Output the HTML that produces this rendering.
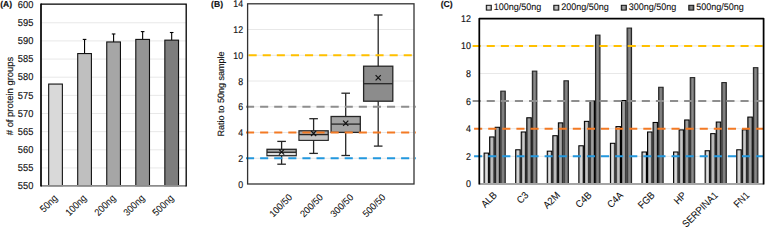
<!DOCTYPE html>
<html><head><meta charset="utf-8"><style>
html,body{margin:0;padding:0;background:#fff;width:765px;height:227px;overflow:hidden}
svg{display:block;font-family:"Liberation Sans", sans-serif;text-rendering:geometricPrecision}
</style></head><body>
<svg width="765" height="227" viewBox="0 0 765 227">
<rect width="765" height="227" fill="#fff"/>
<text transform="translate(0.20,7.40) scale(1.0,1)" font-size="8.6" text-anchor="start" font-weight="bold" fill="#111" stroke="#111" stroke-width="0.15" stroke-linejoin="round">(A)</text>
<line x1="41.0" x2="186.2" y1="167.95" y2="167.95" stroke="#e8e8e8" stroke-width="1"/>
<line x1="41.0" x2="186.2" y1="149.80" y2="149.80" stroke="#e8e8e8" stroke-width="1"/>
<line x1="41.0" x2="186.2" y1="131.65" y2="131.65" stroke="#e8e8e8" stroke-width="1"/>
<line x1="41.0" x2="186.2" y1="113.50" y2="113.50" stroke="#e8e8e8" stroke-width="1"/>
<line x1="41.0" x2="186.2" y1="95.35" y2="95.35" stroke="#e8e8e8" stroke-width="1"/>
<line x1="41.0" x2="186.2" y1="77.20" y2="77.20" stroke="#e8e8e8" stroke-width="1"/>
<line x1="41.0" x2="186.2" y1="59.05" y2="59.05" stroke="#e8e8e8" stroke-width="1"/>
<line x1="41.0" x2="186.2" y1="40.90" y2="40.90" stroke="#e8e8e8" stroke-width="1"/>
<line x1="41.0" x2="186.2" y1="22.75" y2="22.75" stroke="#e8e8e8" stroke-width="1"/>
<rect x="48.67" y="84.06" width="13.7" height="101.64" fill="#d9d9d9" stroke="#111" stroke-width="1.1"/>
<line x1="84.56" x2="84.56" y1="39.41" y2="53.57" stroke="#000" stroke-width="1.1"/>
<line x1="82.76" x2="86.36" y1="39.41" y2="39.41" stroke="#000" stroke-width="1.1"/>
<rect x="77.71" y="53.57" width="13.7" height="132.13" fill="#bfbfbf" stroke="#111" stroke-width="1.1"/>
<line x1="113.60" x2="113.60" y1="33.97" y2="41.95" stroke="#000" stroke-width="1.1"/>
<line x1="111.80" x2="115.40" y1="33.97" y2="33.97" stroke="#000" stroke-width="1.1"/>
<rect x="106.75" y="41.95" width="13.7" height="143.75" fill="#a6a6a6" stroke="#111" stroke-width="1.1"/>
<line x1="142.64" x2="142.64" y1="31.61" y2="39.41" stroke="#000" stroke-width="1.1"/>
<line x1="140.84" x2="144.44" y1="31.61" y2="31.61" stroke="#000" stroke-width="1.1"/>
<rect x="135.79" y="39.41" width="13.7" height="146.29" fill="#959595" stroke="#111" stroke-width="1.1"/>
<line x1="171.68" x2="171.68" y1="32.51" y2="40.14" stroke="#000" stroke-width="1.1"/>
<line x1="169.88" x2="173.48" y1="32.51" y2="32.51" stroke="#000" stroke-width="1.1"/>
<rect x="164.83" y="40.14" width="13.7" height="145.56" fill="#7d7d7d" stroke="#111" stroke-width="1.1"/>
<line x1="41.0" x2="186.2" y1="185.79999999999998" y2="185.79999999999998" stroke="#8c8c8c" stroke-width="1.8"/>
<path d="M186.2 186.6V4.2H41.0" fill="none" stroke="#000" stroke-width="1.3"/>
<line x1="41.0" x2="41.0" y1="3.6" y2="186.6" stroke="#000" stroke-width="1.7"/>
<text transform="translate(33.30,189.30) scale(0.93,1)" font-size="10" text-anchor="end" fill="#111" stroke="#111" stroke-width="0.15" stroke-linejoin="round">550</text>
<text transform="translate(33.30,171.15) scale(0.93,1)" font-size="10" text-anchor="end" fill="#111" stroke="#111" stroke-width="0.15" stroke-linejoin="round">555</text>
<text transform="translate(33.30,153.00) scale(0.93,1)" font-size="10" text-anchor="end" fill="#111" stroke="#111" stroke-width="0.15" stroke-linejoin="round">560</text>
<text transform="translate(33.30,134.85) scale(0.93,1)" font-size="10" text-anchor="end" fill="#111" stroke="#111" stroke-width="0.15" stroke-linejoin="round">565</text>
<text transform="translate(33.30,116.70) scale(0.93,1)" font-size="10" text-anchor="end" fill="#111" stroke="#111" stroke-width="0.15" stroke-linejoin="round">570</text>
<text transform="translate(33.30,98.55) scale(0.93,1)" font-size="10" text-anchor="end" fill="#111" stroke="#111" stroke-width="0.15" stroke-linejoin="round">575</text>
<text transform="translate(33.30,80.40) scale(0.93,1)" font-size="10" text-anchor="end" fill="#111" stroke="#111" stroke-width="0.15" stroke-linejoin="round">580</text>
<text transform="translate(33.30,62.25) scale(0.93,1)" font-size="10" text-anchor="end" fill="#111" stroke="#111" stroke-width="0.15" stroke-linejoin="round">585</text>
<text transform="translate(33.30,44.10) scale(0.93,1)" font-size="10" text-anchor="end" fill="#111" stroke="#111" stroke-width="0.15" stroke-linejoin="round">590</text>
<text transform="translate(33.30,25.95) scale(0.93,1)" font-size="10" text-anchor="end" fill="#111" stroke="#111" stroke-width="0.15" stroke-linejoin="round">595</text>
<text transform="translate(33.30,7.80) scale(0.93,1)" font-size="10" text-anchor="end" fill="#111" stroke="#111" stroke-width="0.15" stroke-linejoin="round">600</text>
<text transform="translate(13.10,96.00) rotate(-90) scale(0.99,1)" font-size="9.5" text-anchor="middle" fill="#111" stroke="#111" stroke-width="0.15" stroke-linejoin="round"># of protein groups</text>
<text transform="translate(58.12,198.80) rotate(-45) scale(0.9,1)" font-size="10" text-anchor="end" fill="#111" stroke="#111" stroke-width="0.06" stroke-linejoin="round">50ng</text>
<text transform="translate(87.16,198.80) rotate(-45) scale(0.9,1)" font-size="10" text-anchor="end" fill="#111" stroke="#111" stroke-width="0.06" stroke-linejoin="round">100ng</text>
<text transform="translate(116.20,198.80) rotate(-45) scale(0.9,1)" font-size="10" text-anchor="end" fill="#111" stroke="#111" stroke-width="0.06" stroke-linejoin="round">200ng</text>
<text transform="translate(145.24,198.80) rotate(-45) scale(0.9,1)" font-size="10" text-anchor="end" fill="#111" stroke="#111" stroke-width="0.06" stroke-linejoin="round">300ng</text>
<text transform="translate(174.28,198.80) rotate(-45) scale(0.9,1)" font-size="10" text-anchor="end" fill="#111" stroke="#111" stroke-width="0.06" stroke-linejoin="round">500ng</text>
<text transform="translate(211.10,7.40) scale(1.0,1)" font-size="8.6" text-anchor="start" font-weight="bold" fill="#111" stroke="#111" stroke-width="0.15" stroke-linejoin="round">(B)</text>
<line x1="247.6" x2="414.0" y1="158.26" y2="158.26" stroke="#e8e8e8" stroke-width="1"/>
<line x1="247.6" x2="414.0" y1="132.51" y2="132.51" stroke="#e8e8e8" stroke-width="1"/>
<line x1="247.6" x2="414.0" y1="106.77" y2="106.77" stroke="#e8e8e8" stroke-width="1"/>
<line x1="247.6" x2="414.0" y1="81.03" y2="81.03" stroke="#e8e8e8" stroke-width="1"/>
<line x1="247.6" x2="414.0" y1="55.29" y2="55.29" stroke="#e8e8e8" stroke-width="1"/>
<line x1="247.6" x2="414.0" y1="29.54" y2="29.54" stroke="#e8e8e8" stroke-width="1"/>
<line x1="281.6" x2="281.6" y1="141.4" y2="164.2" stroke="#262626" stroke-width="1.3"/>
<line x1="277.30" x2="285.90" y1="141.4" y2="141.4" stroke="#262626" stroke-width="1.3"/>
<line x1="277.30" x2="285.90" y1="164.2" y2="164.2" stroke="#262626" stroke-width="1.3"/>
<rect x="267.00" y="149.3" width="29.2" height="6.40" fill="#a8a8a8" stroke="#262626" stroke-width="1.3"/>
<rect x="267.65" y="152.3" width="27.90" height="2.75" fill="#dedede"/>
<line x1="267.00" x2="296.20" y1="152.3" y2="152.3" stroke="#262626" stroke-width="1.3"/>
<path d="M279.00 149.40L284.20 154.60M284.20 149.40L279.00 154.60" stroke="#111" stroke-width="1.2"/>
<line x1="313.6" x2="313.6" y1="118.7" y2="153.4" stroke="#262626" stroke-width="1.3"/>
<line x1="309.30" x2="317.90" y1="118.7" y2="118.7" stroke="#262626" stroke-width="1.3"/>
<line x1="309.30" x2="317.90" y1="153.4" y2="153.4" stroke="#262626" stroke-width="1.3"/>
<rect x="299.00" y="130.8" width="29.2" height="9.50" fill="#a8a8a8" stroke="#262626" stroke-width="1.3"/>
<rect x="299.65" y="134.6" width="27.90" height="5.05" fill="#c4c4c4"/>
<line x1="299.00" x2="328.20" y1="134.6" y2="134.6" stroke="#262626" stroke-width="1.3"/>
<path d="M311.00 130.80L316.20 136.00M316.20 130.80L311.00 136.00" stroke="#111" stroke-width="1.2"/>
<line x1="345.7" x2="345.7" y1="93.2" y2="155.5" stroke="#262626" stroke-width="1.3"/>
<line x1="341.40" x2="350.00" y1="93.2" y2="93.2" stroke="#262626" stroke-width="1.3"/>
<line x1="341.40" x2="350.00" y1="155.5" y2="155.5" stroke="#262626" stroke-width="1.3"/>
<rect x="331.10" y="116.5" width="29.2" height="15.90" fill="#a3a3a3" stroke="#262626" stroke-width="1.3"/>
<line x1="331.10" x2="360.30" y1="124.1" y2="124.1" stroke="#262626" stroke-width="1.3"/>
<path d="M343.10 120.70L348.30 125.90M348.30 120.70L343.10 125.90" stroke="#111" stroke-width="1.2"/>
<line x1="378.2" x2="378.2" y1="15.0" y2="146.1" stroke="#262626" stroke-width="1.3"/>
<line x1="373.90" x2="382.50" y1="15.0" y2="15.0" stroke="#262626" stroke-width="1.3"/>
<line x1="373.90" x2="382.50" y1="146.1" y2="146.1" stroke="#262626" stroke-width="1.3"/>
<rect x="363.60" y="66.2" width="29.2" height="35.00" fill="#8c8c8c" stroke="#262626" stroke-width="1.3"/>
<line x1="363.60" x2="392.80" y1="83.7" y2="83.7" stroke="#262626" stroke-width="1.3"/>
<path d="M375.60 75.20L380.80 80.40M380.80 75.20L375.60 80.40" stroke="#111" stroke-width="1.2"/>
<line x1="248.6" x2="416.0" y1="55.29" y2="55.29" stroke="#ffc000" stroke-width="2" stroke-dasharray="8.1 6"/>
<line x1="246" x2="416.0" y1="106.77" y2="106.77" stroke="#8e8e8e" stroke-width="2" stroke-dasharray="8.1 6"/>
<line x1="246" x2="416.0" y1="132.51" y2="132.51" stroke="#f37a24" stroke-width="2" stroke-dasharray="8.1 6"/>
<line x1="246" x2="416.0" y1="158.26" y2="158.26" stroke="#2398de" stroke-width="2" stroke-dasharray="8.1 6"/>
<rect x="247.6" y="3.8" width="166.40" height="180.20" fill="none" stroke="#333" stroke-width="1.3"/>
<text transform="translate(243.10,187.50) scale(0.9,1)" font-size="9.8" text-anchor="end" fill="#111" stroke="#111" stroke-width="0.15" stroke-linejoin="round">0</text>
<text transform="translate(243.10,161.76) scale(0.9,1)" font-size="9.8" text-anchor="end" fill="#111" stroke="#111" stroke-width="0.15" stroke-linejoin="round">2</text>
<text transform="translate(243.10,136.01) scale(0.9,1)" font-size="9.8" text-anchor="end" fill="#111" stroke="#111" stroke-width="0.15" stroke-linejoin="round">4</text>
<text transform="translate(243.10,110.27) scale(0.9,1)" font-size="9.8" text-anchor="end" fill="#111" stroke="#111" stroke-width="0.15" stroke-linejoin="round">6</text>
<text transform="translate(243.10,84.53) scale(0.9,1)" font-size="9.8" text-anchor="end" fill="#111" stroke="#111" stroke-width="0.15" stroke-linejoin="round">8</text>
<text transform="translate(243.10,58.79) scale(0.9,1)" font-size="9.8" text-anchor="end" fill="#111" stroke="#111" stroke-width="0.15" stroke-linejoin="round">10</text>
<text transform="translate(243.10,33.04) scale(0.9,1)" font-size="9.8" text-anchor="end" fill="#111" stroke="#111" stroke-width="0.15" stroke-linejoin="round">12</text>
<text transform="translate(243.10,7.30) scale(0.9,1)" font-size="9.8" text-anchor="end" fill="#111" stroke="#111" stroke-width="0.15" stroke-linejoin="round">14</text>
<text transform="translate(224.10,94.00) rotate(-90) scale(0.99,1)" font-size="9.1" text-anchor="middle" fill="#111" stroke="#111" stroke-width="0.15" stroke-linejoin="round">Ratio to 50ng sample</text>
<text transform="translate(292.90,198.00) rotate(-45) scale(0.95,1)" font-size="9.6" text-anchor="end" fill="#111" stroke="#111" stroke-width="0.06" stroke-linejoin="round">100/50</text>
<text transform="translate(323.70,198.00) rotate(-45) scale(0.95,1)" font-size="9.6" text-anchor="end" fill="#111" stroke="#111" stroke-width="0.06" stroke-linejoin="round">200/50</text>
<text transform="translate(354.00,198.00) rotate(-45) scale(0.95,1)" font-size="9.6" text-anchor="end" fill="#111" stroke="#111" stroke-width="0.06" stroke-linejoin="round">300/50</text>
<text transform="translate(386.10,198.00) rotate(-45) scale(0.95,1)" font-size="9.6" text-anchor="end" fill="#111" stroke="#111" stroke-width="0.06" stroke-linejoin="round">500/50</text>
<text transform="translate(440.70,7.40) scale(1.0,1)" font-size="8.6" text-anchor="start" font-weight="bold" fill="#111" stroke="#111" stroke-width="0.15" stroke-linejoin="round">(C)</text>
<line x1="479.4" x2="763.6" y1="156.30" y2="156.30" stroke="#e8e8e8" stroke-width="1"/>
<line x1="479.4" x2="763.6" y1="128.70" y2="128.70" stroke="#e8e8e8" stroke-width="1"/>
<line x1="479.4" x2="763.6" y1="101.10" y2="101.10" stroke="#e8e8e8" stroke-width="1"/>
<line x1="479.4" x2="763.6" y1="73.50" y2="73.50" stroke="#e8e8e8" stroke-width="1"/>
<line x1="479.4" x2="763.6" y1="45.90" y2="45.90" stroke="#e8e8e8" stroke-width="1"/>
<defs><linearGradient id="g1" x1="0" x2="1" y1="0" y2="0"><stop offset="0" stop-color="#9a9a9a"/><stop offset="0.5" stop-color="#e4e4e4"/><stop offset="1" stop-color="#9a9a9a"/></linearGradient><linearGradient id="g2" x1="0" x2="1" y1="0" y2="0"><stop offset="0" stop-color="#858585"/><stop offset="0.5" stop-color="#cacaca"/><stop offset="1" stop-color="#858585"/></linearGradient><linearGradient id="g3" x1="0" x2="1" y1="0" y2="0"><stop offset="0" stop-color="#6e6e6e"/><stop offset="0.5" stop-color="#a8a8a8"/><stop offset="1" stop-color="#6e6e6e"/></linearGradient><linearGradient id="g4" x1="0" x2="1" y1="0" y2="0"><stop offset="0" stop-color="#555555"/><stop offset="0.5" stop-color="#8c8c8c"/><stop offset="1" stop-color="#555555"/></linearGradient></defs>
<rect x="484.11" y="153.10" width="4.50" height="31.33" fill="url(#g1)" stroke="#000" stroke-width="1.05"/>
<rect x="489.66" y="136.95" width="4.50" height="47.47" fill="url(#g2)" stroke="#000" stroke-width="1.05"/>
<rect x="495.21" y="127.29" width="4.50" height="57.13" fill="url(#g3)" stroke="#000" stroke-width="1.05"/>
<rect x="500.76" y="91.14" width="4.50" height="93.29" fill="url(#g4)" stroke="#222" stroke-width="1.05"/>
<rect x="515.69" y="149.79" width="4.50" height="34.64" fill="url(#g1)" stroke="#000" stroke-width="1.05"/>
<rect x="521.24" y="131.99" width="4.50" height="52.44" fill="url(#g2)" stroke="#000" stroke-width="1.05"/>
<rect x="526.79" y="117.77" width="4.50" height="66.65" fill="url(#g3)" stroke="#000" stroke-width="1.05"/>
<rect x="532.34" y="71.13" width="4.50" height="113.30" fill="url(#g4)" stroke="#222" stroke-width="1.05"/>
<rect x="547.27" y="151.17" width="4.50" height="33.26" fill="url(#g1)" stroke="#000" stroke-width="1.05"/>
<rect x="552.82" y="135.71" width="4.50" height="48.71" fill="url(#g2)" stroke="#000" stroke-width="1.05"/>
<rect x="558.37" y="122.88" width="4.50" height="61.55" fill="url(#g3)" stroke="#000" stroke-width="1.05"/>
<rect x="563.92" y="80.79" width="4.50" height="103.64" fill="url(#g4)" stroke="#222" stroke-width="1.05"/>
<rect x="578.85" y="145.78" width="4.50" height="38.64" fill="url(#g1)" stroke="#000" stroke-width="1.05"/>
<rect x="584.40" y="121.36" width="4.50" height="63.07" fill="url(#g2)" stroke="#000" stroke-width="1.05"/>
<rect x="589.95" y="100.94" width="4.50" height="83.49" fill="url(#g3)" stroke="#000" stroke-width="1.05"/>
<rect x="595.50" y="35.11" width="4.50" height="149.32" fill="url(#g4)" stroke="#222" stroke-width="1.05"/>
<rect x="610.42" y="143.30" width="4.50" height="41.12" fill="url(#g1)" stroke="#000" stroke-width="1.05"/>
<rect x="615.97" y="126.60" width="4.50" height="57.82" fill="url(#g2)" stroke="#000" stroke-width="1.05"/>
<rect x="621.52" y="100.52" width="4.50" height="83.90" fill="url(#g3)" stroke="#000" stroke-width="1.05"/>
<rect x="627.07" y="28.07" width="4.50" height="156.35" fill="url(#g4)" stroke="#222" stroke-width="1.05"/>
<rect x="642.00" y="152.00" width="4.50" height="32.43" fill="url(#g1)" stroke="#000" stroke-width="1.05"/>
<rect x="647.55" y="131.99" width="4.50" height="52.44" fill="url(#g2)" stroke="#000" stroke-width="1.05"/>
<rect x="653.10" y="122.46" width="4.50" height="61.96" fill="url(#g3)" stroke="#000" stroke-width="1.05"/>
<rect x="658.65" y="87.27" width="4.50" height="97.15" fill="url(#g4)" stroke="#222" stroke-width="1.05"/>
<rect x="673.58" y="152.00" width="4.50" height="32.43" fill="url(#g1)" stroke="#000" stroke-width="1.05"/>
<rect x="679.13" y="129.91" width="4.50" height="54.51" fill="url(#g2)" stroke="#000" stroke-width="1.05"/>
<rect x="684.68" y="119.98" width="4.50" height="64.45" fill="url(#g3)" stroke="#000" stroke-width="1.05"/>
<rect x="690.23" y="77.61" width="4.50" height="106.81" fill="url(#g4)" stroke="#222" stroke-width="1.05"/>
<rect x="705.16" y="150.75" width="4.50" height="33.67" fill="url(#g1)" stroke="#000" stroke-width="1.05"/>
<rect x="710.71" y="133.64" width="4.50" height="50.78" fill="url(#g2)" stroke="#000" stroke-width="1.05"/>
<rect x="716.26" y="122.05" width="4.50" height="62.38" fill="url(#g3)" stroke="#000" stroke-width="1.05"/>
<rect x="721.81" y="82.58" width="4.50" height="101.84" fill="url(#g4)" stroke="#222" stroke-width="1.05"/>
<rect x="736.74" y="149.79" width="4.50" height="34.64" fill="url(#g1)" stroke="#000" stroke-width="1.05"/>
<rect x="742.29" y="129.78" width="4.50" height="54.65" fill="url(#g2)" stroke="#000" stroke-width="1.05"/>
<rect x="747.84" y="117.08" width="4.50" height="67.34" fill="url(#g3)" stroke="#000" stroke-width="1.05"/>
<rect x="753.39" y="67.68" width="4.50" height="116.75" fill="url(#g4)" stroke="#222" stroke-width="1.05"/>
<line x1="472.6" x2="763.6" y1="45.90" y2="45.90" stroke="#ffc000" stroke-width="2" stroke-dasharray="8.1 6"/>
<line x1="472.6" x2="763.6" y1="101.10" y2="101.10" stroke="#8e8e8e" stroke-width="2" stroke-dasharray="8.1 6"/>
<line x1="474.1" x2="763.6" y1="128.70" y2="128.70" stroke="#f37a24" stroke-width="2" stroke-dasharray="8.1 6"/>
<line x1="474.1" x2="763.6" y1="156.30" y2="156.30" stroke="#2398de" stroke-width="2" stroke-dasharray="8.1 6"/>
<line x1="479.4" x2="763.6" y1="183.9" y2="183.9" stroke="#a6a6a6" stroke-width="2"/>
<path d="M479.29999999999995 184.4V18.599999999999998H763.6V184.4" fill="none" stroke="#000" stroke-width="1.75" stroke-linejoin="round"/>
<text transform="translate(471.00,187.40) scale(0.91,1)" font-size="9.8" text-anchor="end" fill="#111" stroke="#111" stroke-width="0.15" stroke-linejoin="round">0</text>
<text transform="translate(471.00,159.80) scale(0.91,1)" font-size="9.8" text-anchor="end" fill="#111" stroke="#111" stroke-width="0.15" stroke-linejoin="round">2</text>
<text transform="translate(471.00,132.20) scale(0.91,1)" font-size="9.8" text-anchor="end" fill="#111" stroke="#111" stroke-width="0.15" stroke-linejoin="round">4</text>
<text transform="translate(471.00,104.60) scale(0.91,1)" font-size="9.8" text-anchor="end" fill="#111" stroke="#111" stroke-width="0.15" stroke-linejoin="round">6</text>
<text transform="translate(471.00,77.00) scale(0.91,1)" font-size="9.8" text-anchor="end" fill="#111" stroke="#111" stroke-width="0.15" stroke-linejoin="round">8</text>
<text transform="translate(471.00,49.40) scale(0.91,1)" font-size="9.8" text-anchor="end" fill="#111" stroke="#111" stroke-width="0.15" stroke-linejoin="round">10</text>
<text transform="translate(471.00,21.80) scale(0.91,1)" font-size="9.8" text-anchor="end" fill="#111" stroke="#111" stroke-width="0.15" stroke-linejoin="round">12</text>
<text transform="translate(497.49,195.90) rotate(-45) scale(0.92,1)" font-size="10.0" text-anchor="end" fill="#111" stroke="#111" stroke-width="0.06" stroke-linejoin="round">ALB</text>
<text transform="translate(529.07,195.90) rotate(-45) scale(0.92,1)" font-size="10.0" text-anchor="end" fill="#111" stroke="#111" stroke-width="0.06" stroke-linejoin="round">C3</text>
<text transform="translate(560.64,195.90) rotate(-45) scale(0.92,1)" font-size="10.0" text-anchor="end" fill="#111" stroke="#111" stroke-width="0.06" stroke-linejoin="round">A2M</text>
<text transform="translate(592.22,195.90) rotate(-45) scale(0.92,1)" font-size="10.0" text-anchor="end" fill="#111" stroke="#111" stroke-width="0.06" stroke-linejoin="round">C4B</text>
<text transform="translate(623.80,195.90) rotate(-45) scale(0.92,1)" font-size="10.0" text-anchor="end" fill="#111" stroke="#111" stroke-width="0.06" stroke-linejoin="round">C4A</text>
<text transform="translate(655.38,195.90) rotate(-45) scale(0.92,1)" font-size="10.0" text-anchor="end" fill="#111" stroke="#111" stroke-width="0.06" stroke-linejoin="round">FGB</text>
<text transform="translate(686.96,195.90) rotate(-45) scale(0.92,1)" font-size="10.0" text-anchor="end" fill="#111" stroke="#111" stroke-width="0.06" stroke-linejoin="round">HP</text>
<text transform="translate(718.53,195.90) rotate(-45) scale(0.92,1)" font-size="10.0" text-anchor="end" fill="#111" stroke="#111" stroke-width="0.06" stroke-linejoin="round">SERPINA1</text>
<text transform="translate(750.11,195.90) rotate(-45) scale(0.92,1)" font-size="10.0" text-anchor="end" fill="#111" stroke="#111" stroke-width="0.06" stroke-linejoin="round">FN1</text>
<rect x="486.30" y="5.3" width="5" height="4.8" fill="url(#g1)" stroke="#111" stroke-width="1"/>
<text transform="translate(493.70,10.00) scale(0.95,1)" font-size="9.5" text-anchor="start" fill="#111" stroke="#111" stroke-width="0.1" stroke-linejoin="round">100ng/50ng</text>
<rect x="553.80" y="5.3" width="5" height="4.8" fill="url(#g2)" stroke="#111" stroke-width="1"/>
<text transform="translate(561.20,10.00) scale(0.95,1)" font-size="9.5" text-anchor="start" fill="#111" stroke="#111" stroke-width="0.1" stroke-linejoin="round">200ng/50ng</text>
<rect x="621.30" y="5.3" width="5" height="4.8" fill="url(#g3)" stroke="#111" stroke-width="1"/>
<text transform="translate(628.70,10.00) scale(0.95,1)" font-size="9.5" text-anchor="start" fill="#111" stroke="#111" stroke-width="0.1" stroke-linejoin="round">300ng/50ng</text>
<rect x="688.80" y="5.3" width="5" height="4.8" fill="url(#g4)" stroke="#111" stroke-width="1"/>
<text transform="translate(696.20,10.00) scale(0.95,1)" font-size="9.5" text-anchor="start" fill="#111" stroke="#111" stroke-width="0.1" stroke-linejoin="round">500ng/50ng</text>
</svg></body></html>
